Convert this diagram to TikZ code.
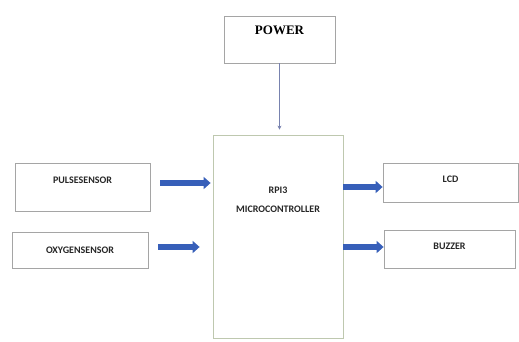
\documentclass[tikz,border=0pt]{standalone}
\usepackage{fontspec}
\setmainfont{Liberation Serif}
\newfontfamily\boxfont{Carlito}
\usetikzlibrary{arrows.meta}
\definecolor{boxline}{RGB}{165,165,165}
\definecolor{microline}{RGB}{190,200,175}
\definecolor{fatblue}{RGB}{55,95,185}
\definecolor{thinblue}{RGB}{120,130,175}
\tikzset{
  blockbox/.style={draw=boxline, line width=0.8pt, inner sep=0pt},
  lbl/.style={font=\boxfont\bfseries\fontsize{10}{12}\selectfont, text=black!85},
  fatarrow/.style={line width=5.5pt, draw=fatblue, -{Triangle[length=7pt,width=12pt]}},
  thinarrow/.style={line width=0.6pt, draw=thinblue, -{Stealth[length=4pt,width=4pt]}}
}
\begin{document}
\begin{tikzpicture}[x=1pt,y=-1pt]
\useasboundingbox (0,0) rectangle (519,341);
\node[blockbox, minimum width=111pt, minimum height=47pt,
  label={[yshift=9pt,font=\bfseries\fontsize{13}{15}\selectfont]center:POWER}] (power) at (279.5,39.5) {};
\node[blockbox, draw=microline, minimum width=130pt, minimum height=203pt,
  label={[anchor=north,yshift=-49pt,lbl,align=center]north:RPI3\\[7pt]MICROCONTROLLER}] (micro) at (278,236.5) {};
\node[blockbox, minimum width=135pt, minimum height=48pt,
  label={[yshift=7pt,lbl]center:PULSESENSOR}] (pulse) at (82.5,187) {};
\node[blockbox, minimum width=136pt, minimum height=36pt,
  label={[lbl]center:OXYGENSENSOR}] (oxy) at (80,250) {};
\node[blockbox, minimum width=135pt, minimum height=39pt,
  label={[yshift=3pt,lbl]center:LCD}] (lcd) at (450.5,182.5) {};
\node[blockbox, minimum width=131pt, minimum height=38pt,
  label={[yshift=3pt,lbl]center:BUZZER}] (buzzer) at (449.5,249) {};
\draw[thinarrow, shorten >=5pt] (power.south) -- (power.south |- micro.north);
\draw[fatarrow, shorten >=2pt] ([xshift=10pt,yshift=4pt]pulse.east) -- ([yshift=4pt]pulse.east -| micro.west);
\draw[fatarrow, shorten >=13pt] ([xshift=10pt,yshift=3pt]oxy.east) -- ([yshift=3pt]oxy.east -| micro.west);
\draw[fatarrow, shorten >=0pt] ([yshift=-4.5pt]lcd.west -| micro.east) -- ([yshift=-4.5pt]lcd.west);
\draw[fatarrow, shorten >=0pt] ([yshift=2pt]buzzer.west -| micro.east) -- ([yshift=2pt]buzzer.west);
\end{tikzpicture}
\end{document}
